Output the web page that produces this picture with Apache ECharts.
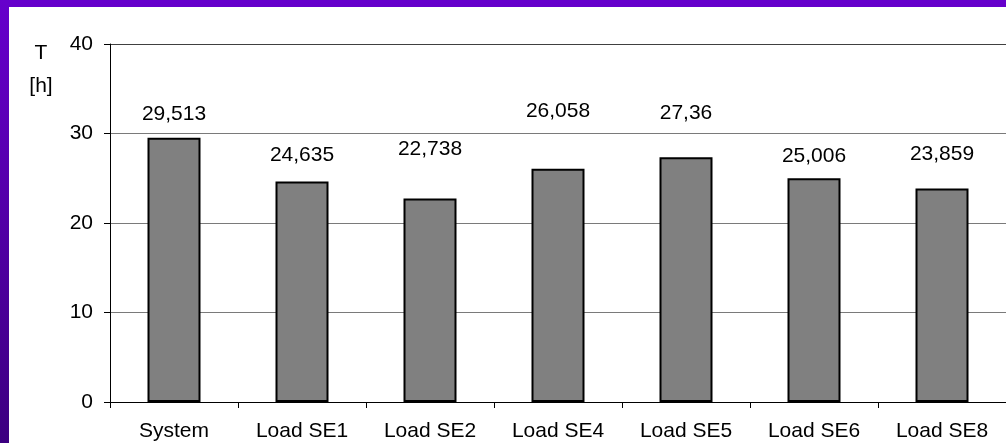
<!DOCTYPE html>
<html>
<head>
<meta charset="utf-8">
<style>
  html, body { margin: 0; padding: 0; }
  body {
    width: 1006px; height: 443px; overflow: hidden; position: relative;
    background: linear-gradient(to bottom, #6600cc 0%, #5200a6 50%, #3c0080 100%);
  }
  #frame { position: absolute; left: 9px; top: 7px; width: 997px; height: 436px; background: #ffffff; }
  #chart { width: 997px; height: 436px; }
</style>
<script src="https://cdn.jsdelivr.net/npm/echarts@6/dist/echarts.min.js"></script>
</head>
<body>
<div id="frame"><div id="chart"></div></div>
<script>
// Mean duration T in hours, for the whole system and for each load case
const categories = ['System', 'Load SE1', 'Load SE2', 'Load SE4', 'Load SE5', 'Load SE6', 'Load SE8'];
const durations = [29.513, 24.635, 22.738, 26.058, 27.36, 25.006, 23.859];
const yTicks = [0, 10, 20, 30, 40];

// How far (px) each value label sits above its bar
const labelRaise = [13, 16, 39, 47, 33, 11, 24];

const FONT = 'Liberation Sans, Arial, sans-serif';
const FONT_SIZE = 21;

const formatValue = v => String(v).replace('.', ',');

const chart = echarts.init(document.getElementById('chart'), null, { renderer: 'canvas' });

chart.setOption({
  animation: false,
  backgroundColor: '#ffffff',
  textStyle: { fontFamily: FONT },
  title: {
    text: 'T\n[h]',
    left: 27,
    top: 25,
    textAlign: 'center',
    textStyle: { fontFamily: FONT, fontSize: FONT_SIZE, fontWeight: 'normal', color: '#000', lineHeight: 33 }
  },
  grid: { left: 101, top: 37, width: 903, height: 358, containLabel: false },
  xAxis: {
    type: 'category',
    data: categories,
    boundaryGap: true,
    axisLine: { lineStyle: { color: '#000', width: 1 } },
    axisTick: { show: true, length: 6, lineStyle: { color: '#000' } },
    axisLabel: { color: '#000', fontSize: FONT_SIZE, fontFamily: FONT, margin: 19, interval: 0 },
    splitLine: { show: false }
  },
  yAxis: {
    type: 'value',
    min: yTicks[0],
    max: yTicks[yTicks.length - 1],
    interval: 10,
    axisLine: { show: true, lineStyle: { color: '#000', width: 1 } },
    axisTick: { show: true, length: 6, inside: false, lineStyle: { color: '#000' } },
    axisLabel: { color: '#000', fontSize: FONT_SIZE, fontFamily: FONT, margin: 17 },
    splitLine: {
      show: true,
      lineStyle: { color: ['#7a7a7a', '#7a7a7a', '#7a7a7a', '#7a7a7a', '#404040'], width: 1 }
    }
  },
  series: [{
    type: 'bar',
    barWidth: 53,
    data: durations.map((v, i) => ({
      value: v,
      label: { offset: [0, -labelRaise[i]] }
    })),
    itemStyle: { color: '#808080', borderColor: '#000', borderWidth: 2 },
    label: {
      show: true,
      position: 'top',
      distance: 0,
      color: '#000',
      fontSize: FONT_SIZE,
      fontFamily: FONT,
      formatter: p => formatValue(p.value)
    }
  }]
});
</script>
</body>
</html>
